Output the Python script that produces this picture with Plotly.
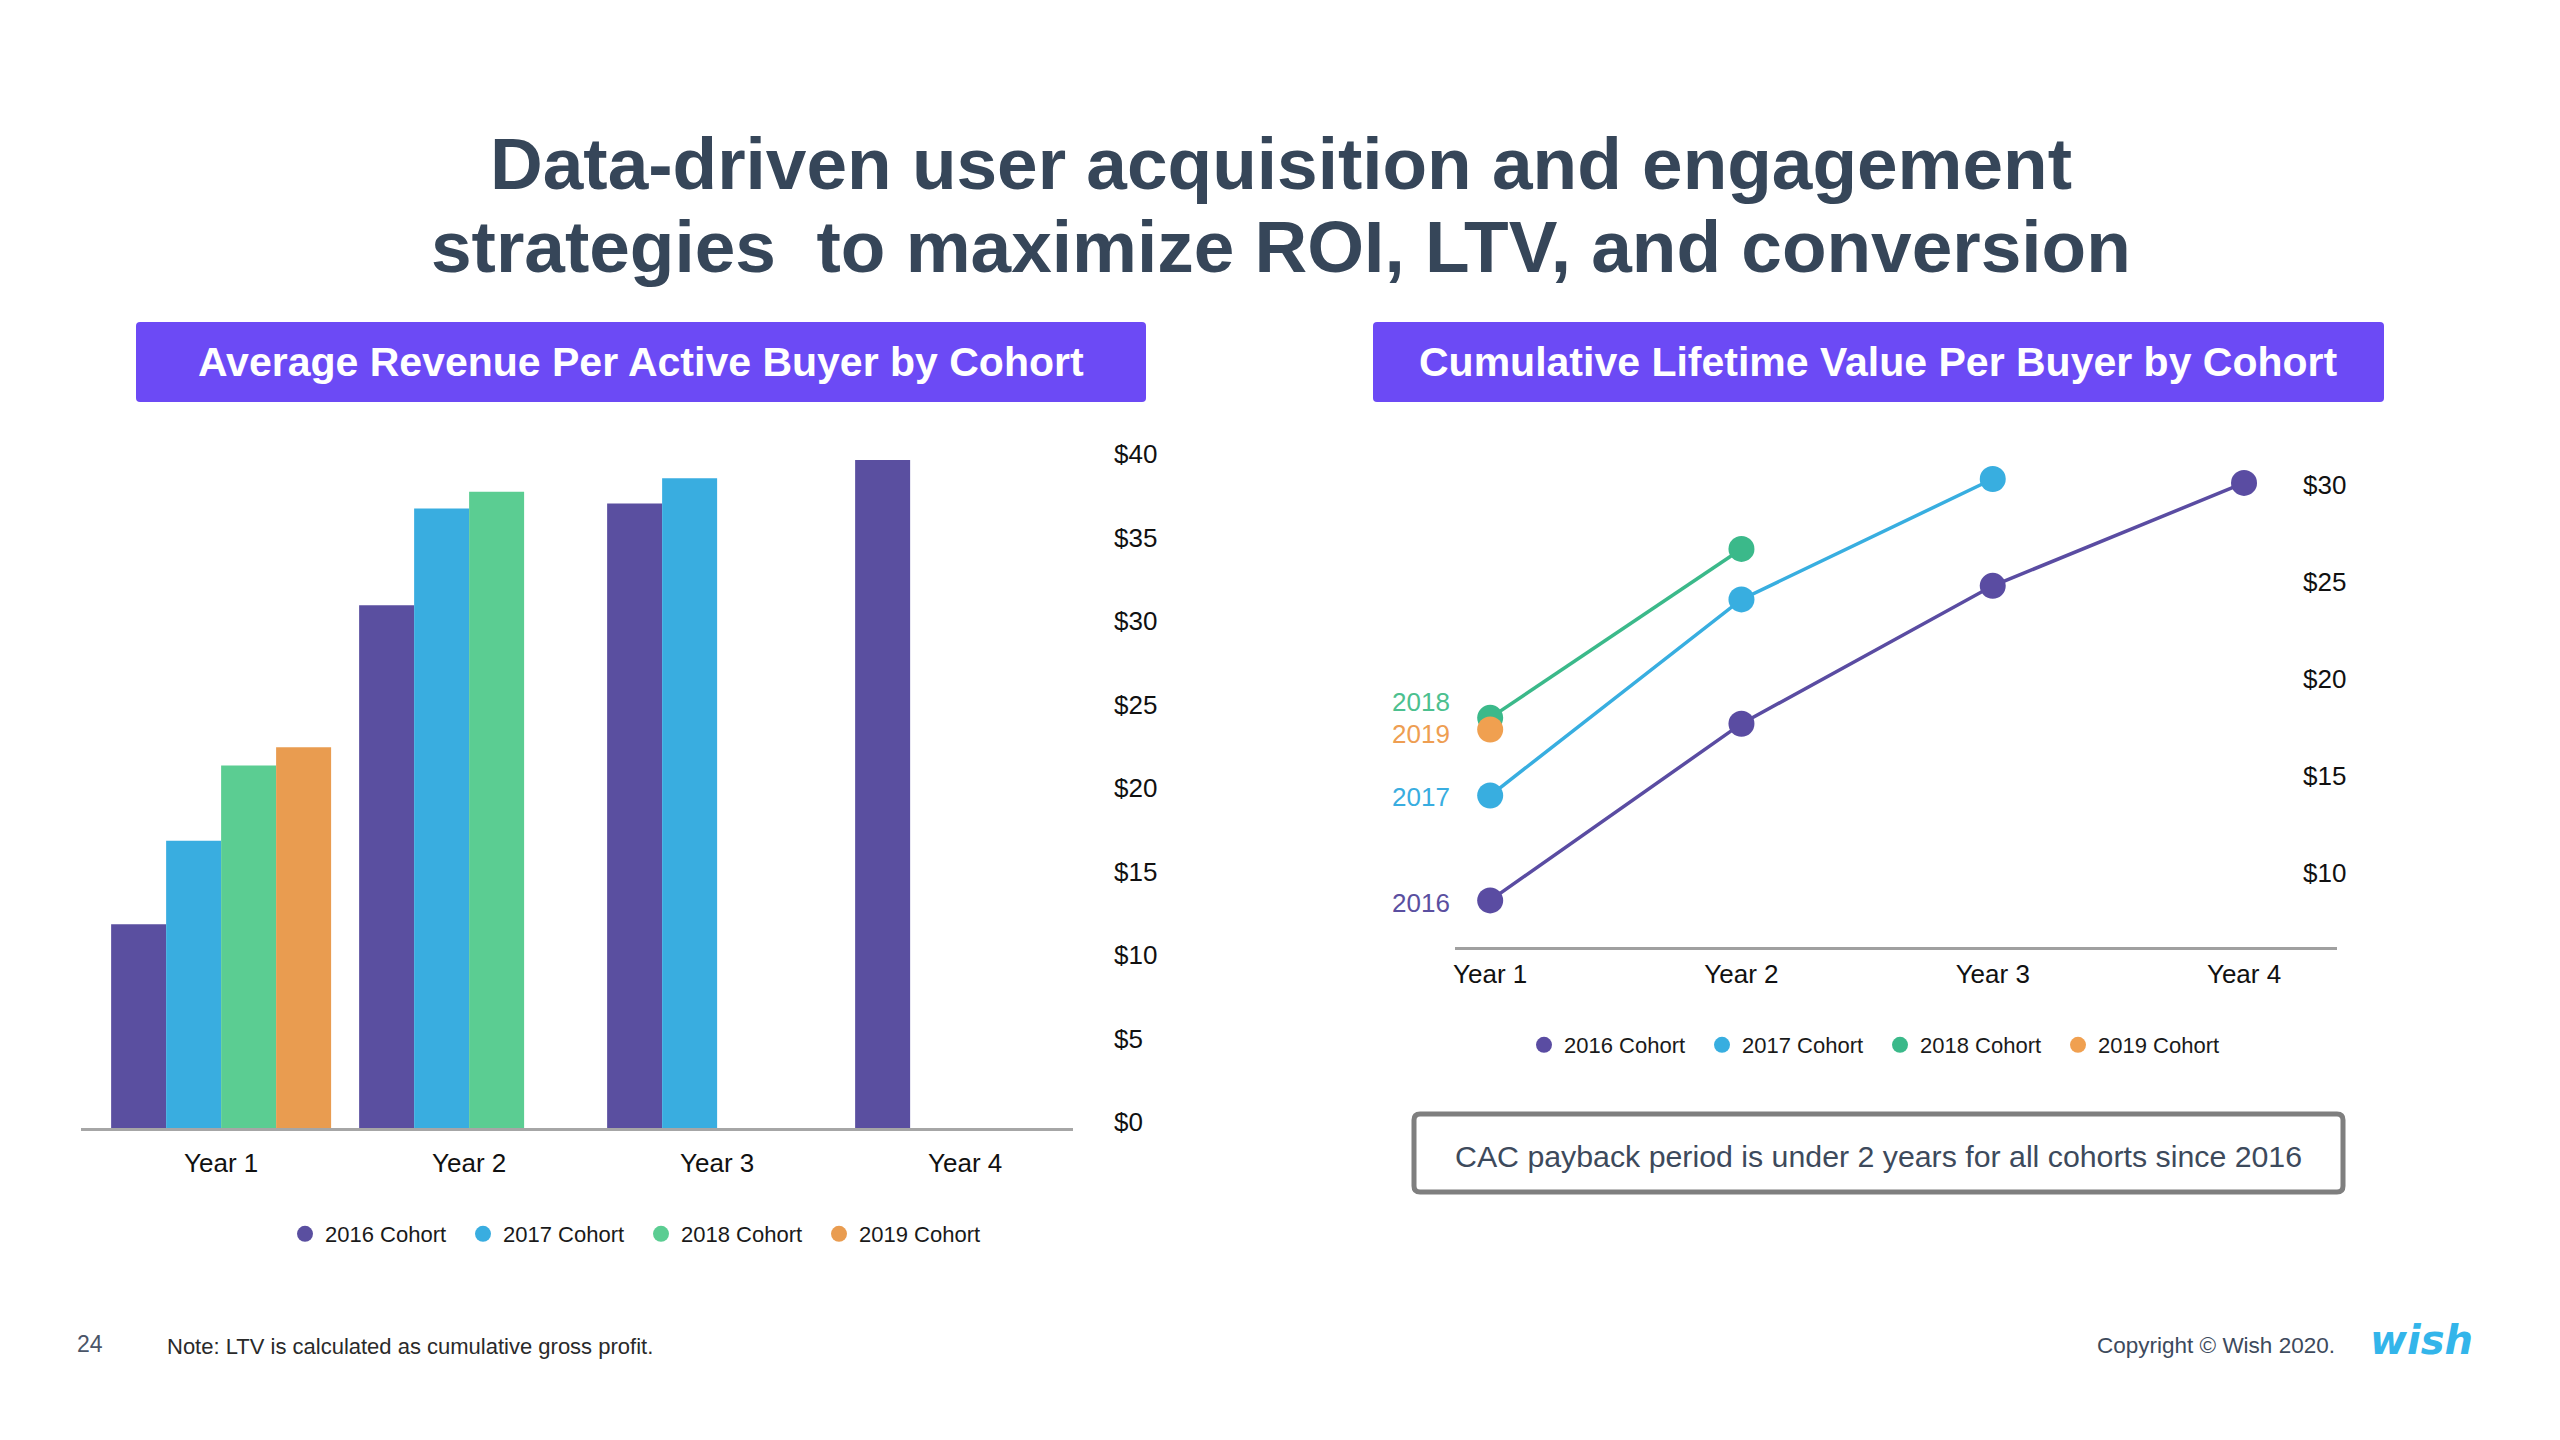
import plotly.graph_objects as go

W, H = 2560, 1440

# ---------------- data ----------------
years = ["Year 1", "Year 2", "Year 3", "Year 4"]
cohorts = ["2016 Cohort", "2017 Cohort", "2018 Cohort", "2019 Cohort"]
cohort_short = ["2016", "2017", "2018", "2019"]

# Average revenue per active buyer ($)
arpab_2016 = [12.2, 31.3, 37.4, 40.0]
arpab_2017 = [17.2, 37.1, 38.9, None]
arpab_2018 = [21.7, 38.1, None, None]
arpab_2019 = [22.8, None, None, None]

# Cumulative LTV per buyer ($)
ltv_2016 = [8.9, 18.0, 25.1, 30.4]
ltv_2017 = [14.3, 24.4, 30.6, None]
ltv_2018 = [18.3, 27.0, None, None]
ltv_2019 = [17.7, None, None, None]

bar_ticks = [0, 5, 10, 15, 20, 25, 30, 35, 40]
bar_ticktext = ["$0", "$5", "$10", "$15", "$20", "$25", "$30", "$35", "$40"]
ltv_ticks = [10, 15, 20, 25, 30]
ltv_ticktext = ["$10", "$15", "$20", "$25", "$30"]

title_line1 = "Data-driven user acquisition and engagement"
title_line2 = "strategies \u00a0to maximize ROI, LTV, and conversion"
left_header = "Average Revenue Per Active Buyer by Cohort"
right_header = "Cumulative Lifetime Value Per Buyer by Cohort"
callout = "CAC payback period is under 2 years for all cohorts since 2016"
note = "Note: LTV is calculated as cumulative gross profit."
page_no = "24"
copyright_txt = "Copyright \u00a9 Wish 2020."
logo_txt = "wish"

# ---------------- style ----------------
FONT = "Liberation Sans, Arial, Helvetica, sans-serif"
bar_colors = ["#5A4FA0", "#39ADE0", "#5BCD92", "#E99C50"]
line_colors = ["#5A4CA2", "#38AEE0", "#3BB98A", "#F0A050"]
label_colors = ["#5A4FA0", "#39ADE0", "#4CC08F", "#EE9E52"]
TITLE_C = "#364659"
HEADER_C = "#6C4AF5"


def px_x(x):
    return x / W


def px_y(y):
    return 1 - y / H


def rrect(x0, y0, x1, y1, r):
    # rounded rectangle path in paper coords from pixel coords
    X = lambda v: px_x(v)
    Y = lambda v: px_y(v)
    return (f"M {X(x0+r)},{Y(y0)} L {X(x1-r)},{Y(y0)} Q {X(x1)},{Y(y0)} {X(x1)},{Y(y0+r)} "
            f"L {X(x1)},{Y(y1-r)} Q {X(x1)},{Y(y1)} {X(x1-r)},{Y(y1)} "
            f"L {X(x0+r)},{Y(y1)} Q {X(x0)},{Y(y1)} {X(x0)},{Y(y1-r)} "
            f"L {X(x0)},{Y(y0+r)} Q {X(x0)},{Y(y0)} {X(x0+r)},{Y(y0)} Z")


fig = go.Figure()

# ---------------- left: bars ----------------
bar_series = [arpab_2016, arpab_2017, arpab_2018, arpab_2019]
for name, vals, col in zip(cohorts, bar_series, bar_colors):
    fig.add_trace(go.Bar(x=years, y=vals, name=name, marker=dict(color=col, line=dict(width=0)),
                         xaxis="x", yaxis="y", showlegend=False, hoverinfo="x+y+name"))
for name, col in zip(cohorts, bar_colors):
    fig.add_trace(go.Scatter(x=[None], y=[None], mode="markers", name=name,
                             marker=dict(color=col, size=16, symbol="circle"),
                             xaxis="x", yaxis="y", legend="legend", showlegend=True))

# ---------------- right: lines ----------------
line_series = [ltv_2016, ltv_2017, ltv_2018, ltv_2019]
for name, vals, col in zip(cohorts, line_series, line_colors):
    fig.add_trace(go.Scatter(x=years, y=vals, name=name, mode="lines+markers",
                             line=dict(color=col, width=3.5),
                             marker=dict(color=col, size=26),
                             xaxis="x2", yaxis="y2", showlegend=False))
for name, col in zip(cohorts, line_colors):
    fig.add_trace(go.Scatter(x=[None], y=[None], mode="markers", name=name,
                             marker=dict(color=col, size=16, symbol="circle"),
                             xaxis="x2", yaxis="y2", legend="legend2", showlegend=True))

# cohort labels on the left of Year 1 points
label_shift = [-3, -1, 16, -4]
annotations = []
for short, vals, col, ys in zip(cohort_short, line_series, label_colors, label_shift):
    annotations.append(dict(x=years[0], y=vals[0], xref="x2", yref="y2", text=short,
                            showarrow=False, xanchor="right", yanchor="middle",
                            xshift=-38, yshift=ys, font=dict(family=FONT, size=26, color=col)))

axis_font = dict(family=FONT, size=26, color="#111111")

fig.update_layout(
    width=W, height=H, autosize=False,
    margin=dict(l=0, r=0, t=0, b=0, pad=0, autoexpand=False),
    paper_bgcolor="white", plot_bgcolor="white",
    font=dict(family=FONT),
    barmode="group", bargap=0.113, bargroupgap=0,
    xaxis=dict(domain=[px_x(81), px_x(1073)], type="category", range=[-0.565, 3.435],
               showline=True, linecolor="#A6A6A6", linewidth=2.5, showgrid=False, zeroline=False,
               ticks="", tickfont=axis_font, ticklabelstandoff=10, fixedrange=True, anchor="y",
               automargin=False),
    yaxis=dict(domain=[px_y(1128), px_y(460)], range=[0, 40], anchor="free", side="right",
               position=px_x(1113), showgrid=False, zeroline=False, showline=False, ticks="",
               tickvals=bar_ticks, ticktext=bar_ticktext, tickfont=axis_font, ticklabelshift=-6,
               fixedrange=True, automargin=False),
    xaxis2=dict(domain=[px_x(1455), px_x(2337)], type="category", range=[-0.14, 3.37],
                showline=True, linecolor="#A0A0A0", linewidth=2.5, showgrid=False, zeroline=False,
                ticks="", tickfont=axis_font, ticklabelstandoff=2, fixedrange=True, anchor="y2",
                automargin=False),
    yaxis2=dict(domain=[px_y(947), px_y(440)], range=[6.5, 32.61], anchor="free", side="right",
                position=px_x(2302), showgrid=False, zeroline=False, showline=False, ticks="",
                tickvals=ltv_ticks, ticktext=ltv_ticktext, tickfont=axis_font, ticklabelshift=-6,
                fixedrange=True, automargin=False),
    legend=dict(orientation="h", x=px_x(285), y=px_y(1234), xanchor="left", yanchor="middle",
                font=dict(family=FONT, size=22, color="#1A1A1A"), entrywidth=133,
                bgcolor="rgba(0,0,0,0)", itemclick=False, itemdoubleclick=False),
    legend2=dict(orientation="h", x=px_x(1524), y=px_y(1045), xanchor="left", yanchor="middle",
                 font=dict(family=FONT, size=22, color="#1A1A1A"), entrywidth=133,
                 bgcolor="rgba(0,0,0,0)", itemclick=False, itemdoubleclick=False),
)

# ---------------- decorations ----------------
shapes = [
    dict(type="path", xref="paper", yref="paper", path=rrect(136, 322, 1146, 402, 4),
         fillcolor=HEADER_C, line=dict(width=0), layer="below"),
    dict(type="path", xref="paper", yref="paper", path=rrect(1373, 322, 2384, 402, 4),
         fillcolor=HEADER_C, line=dict(width=0), layer="below"),
    dict(type="path", xref="paper", yref="paper", path=rrect(1414, 1114, 2343, 1192, 6),
         fillcolor="white", line=dict(color="#7F7F7F", width=5), layer="below"),
]

annotations += [
    dict(x=px_x(1281), y=px_y(163), xref="paper", yref="paper", text=f"<b>{title_line1}</b>",
         showarrow=False, xanchor="center", yanchor="middle",
         font=dict(family=FONT, size=73, color=TITLE_C)),
    dict(x=px_x(1281), y=px_y(247), xref="paper", yref="paper", text=f"<b>{title_line2}</b>",
         showarrow=False, xanchor="center", yanchor="middle",
         font=dict(family=FONT, size=73, color=TITLE_C)),
    dict(x=px_x(641), y=px_y(362), xref="paper", yref="paper", text=f"<b>{left_header}</b>",
         showarrow=False, xanchor="center", yanchor="middle",
         font=dict(family=FONT, size=41, color="white")),
    dict(x=px_x(1878), y=px_y(362), xref="paper", yref="paper", text=f"<b>{right_header}</b>",
         showarrow=False, xanchor="center", yanchor="middle",
         font=dict(family=FONT, size=41, color="white")),
    dict(x=px_x(1878), y=px_y(1156), xref="paper", yref="paper", text=callout,
         showarrow=False, xanchor="center", yanchor="middle",
         font=dict(family=FONT, size=30.3, color="#3D4A5C")),
    dict(x=px_x(75), y=px_y(1344), xref="paper", yref="paper", text=page_no,
         showarrow=False, xanchor="left", yanchor="middle",
         font=dict(family=FONT, size=23, color="#4A5568")),
    dict(x=px_x(165), y=px_y(1346), xref="paper", yref="paper", text=note,
         showarrow=False, xanchor="left", yanchor="middle",
         font=dict(family=FONT, size=22, color="#2A2A2A")),
    dict(x=px_x(2337), y=px_y(1345), xref="paper", yref="paper", text=copyright_txt,
         showarrow=False, xanchor="right", yanchor="middle",
         font=dict(family=FONT, size=22.5, color="#3D4A5C")),
    dict(x=px_x(2421), y=px_y(1340), xref="paper", yref="paper", text=f"<b><i>{logo_txt}</i></b>",
         showarrow=False, xanchor="center", yanchor="middle",
         font=dict(family="DejaVu Sans, sans-serif", size=40, color="#33B5EA")),
]

fig.update_layout(shapes=shapes, annotations=annotations)

fig.write_html("out.html", config={"displayModeBar": False},
               post_script="document.body.style.margin='0';document.body.style.overflow='hidden';")
